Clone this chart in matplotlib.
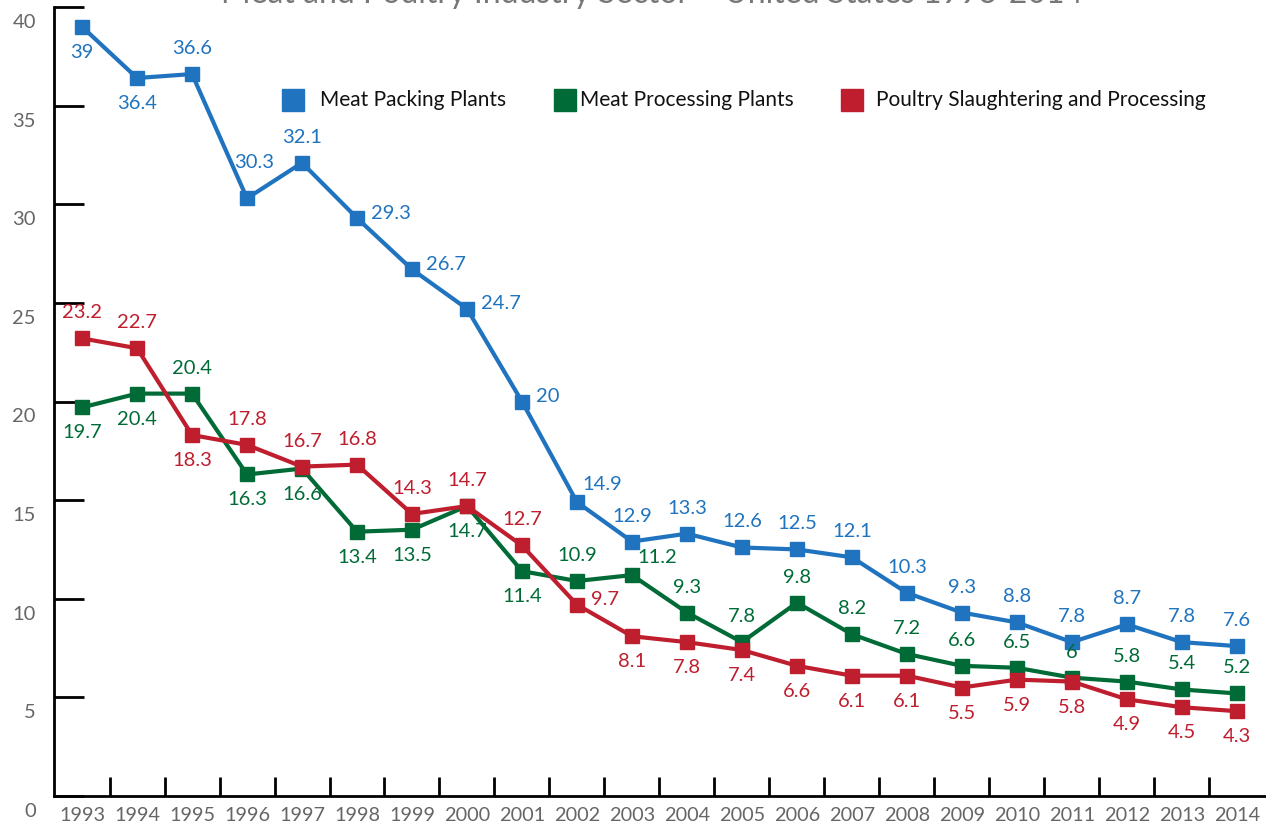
import matplotlib
matplotlib.use("Agg")
import matplotlib.pyplot as plt
from matplotlib.transforms import offset_copy

plt.rcParams['font.family'] = ['Lato', 'DejaVu Sans']

years = list(range(1993, 2015))
packing = [39, 36.4, 36.6, 30.3, 32.1, 29.3, 26.7, 24.7, 20, 14.9, 12.9,
           13.3, 12.6, 12.5, 12.1, 10.3, 9.3, 8.8, 7.8, 8.7, 7.8, 7.6]
processing = [19.7, 20.4, 20.4, 16.3, 16.6, 13.4, 13.5, 14.7, 11.4, 10.9, 11.2,
              9.3, 7.8, 9.8, 8.2, 7.2, 6.6, 6.5, 6, 5.8, 5.4, 5.2]
poultry = [23.2, 22.7, 18.3, 17.8, 16.7, 16.8, 14.3, 14.7, 12.7, 9.7, 8.1,
           7.8, 7.4, 6.6, 6.1, 6.1, 5.5, 5.9, 5.8, 4.9, 4.5, 4.3]
series_names = ["Meat Packing Plants", "Meat Processing Plants",
                "Poultry Slaughtering and Processing"]
title = "Meat and Poultry Industry Sector \u2013 United States 1993-2014"
yticks = [0, 5, 10, 15, 20, 25, 30, 35, 40]

colors = ["#1F73BF", "#006B36", "#BF1E2E"]

# label placement: a=above, hi=high above, b=below, r=right, ar=above-right
pos_pack = ['b', 'b', 'a', 'hi', 'a', 'r', 'r', 'r', 'r', 'ar', 'a',
            'a', 'a', 'a', 'a', 'a', 'a', 'a', 'a', 'a', 'a', 'a']
pos_proc = ['b', 'b', 'a', 'b', 'b', 'b', 'b', 'b', 'b', 'a', 'ar',
            'a', 'a', 'a', 'a', 'a', 'a', 'a', 'a', 'a', 'a', 'a']
pos_poul = ['a', 'a', 'b', 'a', 'a', 'a', 'a', 'a', 'a', 'r', 'b',
            'b', 'b', 'b', 'b', 'b', 'b', 'b', 'b', 'b', 'b', 'b']

fig = plt.figure(figsize=(12.66, 8.27), dpi=100)
ax = fig.add_axes([54 / 1266, 31 / 827, 1 - 54 / 1266, (820 - 31) / 827])
ax.set_xlim(1992.49, 2014.53)
ax.set_ylim(0, 40)

for s in ['top', 'right']:
    ax.spines[s].set_visible(False)
for s in ['left', 'bottom']:
    ax.spines[s].set_linewidth(2)
    ax.spines[s].set_color('black')

ax.set_yticks(yticks)
ax.set_yticklabels([str(v) for v in yticks])
ax.tick_params(axis='y', direction='in', length=21.6, width=2, colors='black',
               labelcolor='#666666', labelsize=14.5, pad=13)
for lab in ax.get_yticklabels():
    lab.set_transform(offset_copy(lab.get_transform(), fig=fig, x=0, y=-14, units='dots'))

ax.set_xticks([y + 0.5 for y in years[:-1]])
ax.set_xticklabels([])
ax.tick_params(axis='x', direction='in', length=14, width=2, colors='black')
for y in years:
    ax.text(y, -0.55, str(y), ha='center', va='top', fontsize=14.3, color='#666666',
            clip_on=False)

# offsets in pixels (dx, dy)
offs = {'a': (0, 17), 'hi': (7, 27), 'b': (0, -17), 'r': (14, 5), 'ar': (5, 18)}
vas = {'a': 'bottom', 'hi': 'bottom', 'b': 'top', 'r': 'center', 'ar': 'center'}
has = {'a': 'center', 'hi': 'center', 'b': 'center', 'r': 'left', 'ar': 'left'}

for vals, col, poss, name in zip([packing, processing, poultry], colors,
                                 [pos_pack, pos_proc, pos_poul], series_names):
    ax.plot(years, vals, color=col, lw=3, marker='s', ms=10, mec=col, mfc=col,
            zorder=3, clip_on=False)
    for x, v, p in zip(years, vals, poss):
        dx, dy = offs[p]
        lbl = str(v) if not float(v).is_integer() else str(int(v))
        ax.annotate(lbl, (x, v), xytext=(dx * 0.72, dy * 0.72), textcoords='offset points',
                    ha=has[p], va=vas[p], fontsize=14.5, color=col, zorder=4)

# legend
leg_sq_x = [293 / 1266, 565 / 1266, 852 / 1266]
leg_tx_x = [320 / 1266, 580 / 1266, 876 / 1266]
leg_y = 1 - 100 / 827
for sx, tx, col, name in zip(leg_sq_x, leg_tx_x, colors, series_names):
    fig.patches.append(plt.Rectangle((sx - 11 / 1266, leg_y - 11 / 827), 22 / 1266, 22 / 827,
                                     transform=fig.transFigure, color=col, figure=fig))
    fig.text(tx, leg_y, name, ha='left', va='center', fontsize=15, color='#111111')

fig.text(0.515, 1 - 3 / 827, title, ha='center', va='baseline', fontsize=23, color='#777777')

fig.savefig("out.png", dpi=100)
